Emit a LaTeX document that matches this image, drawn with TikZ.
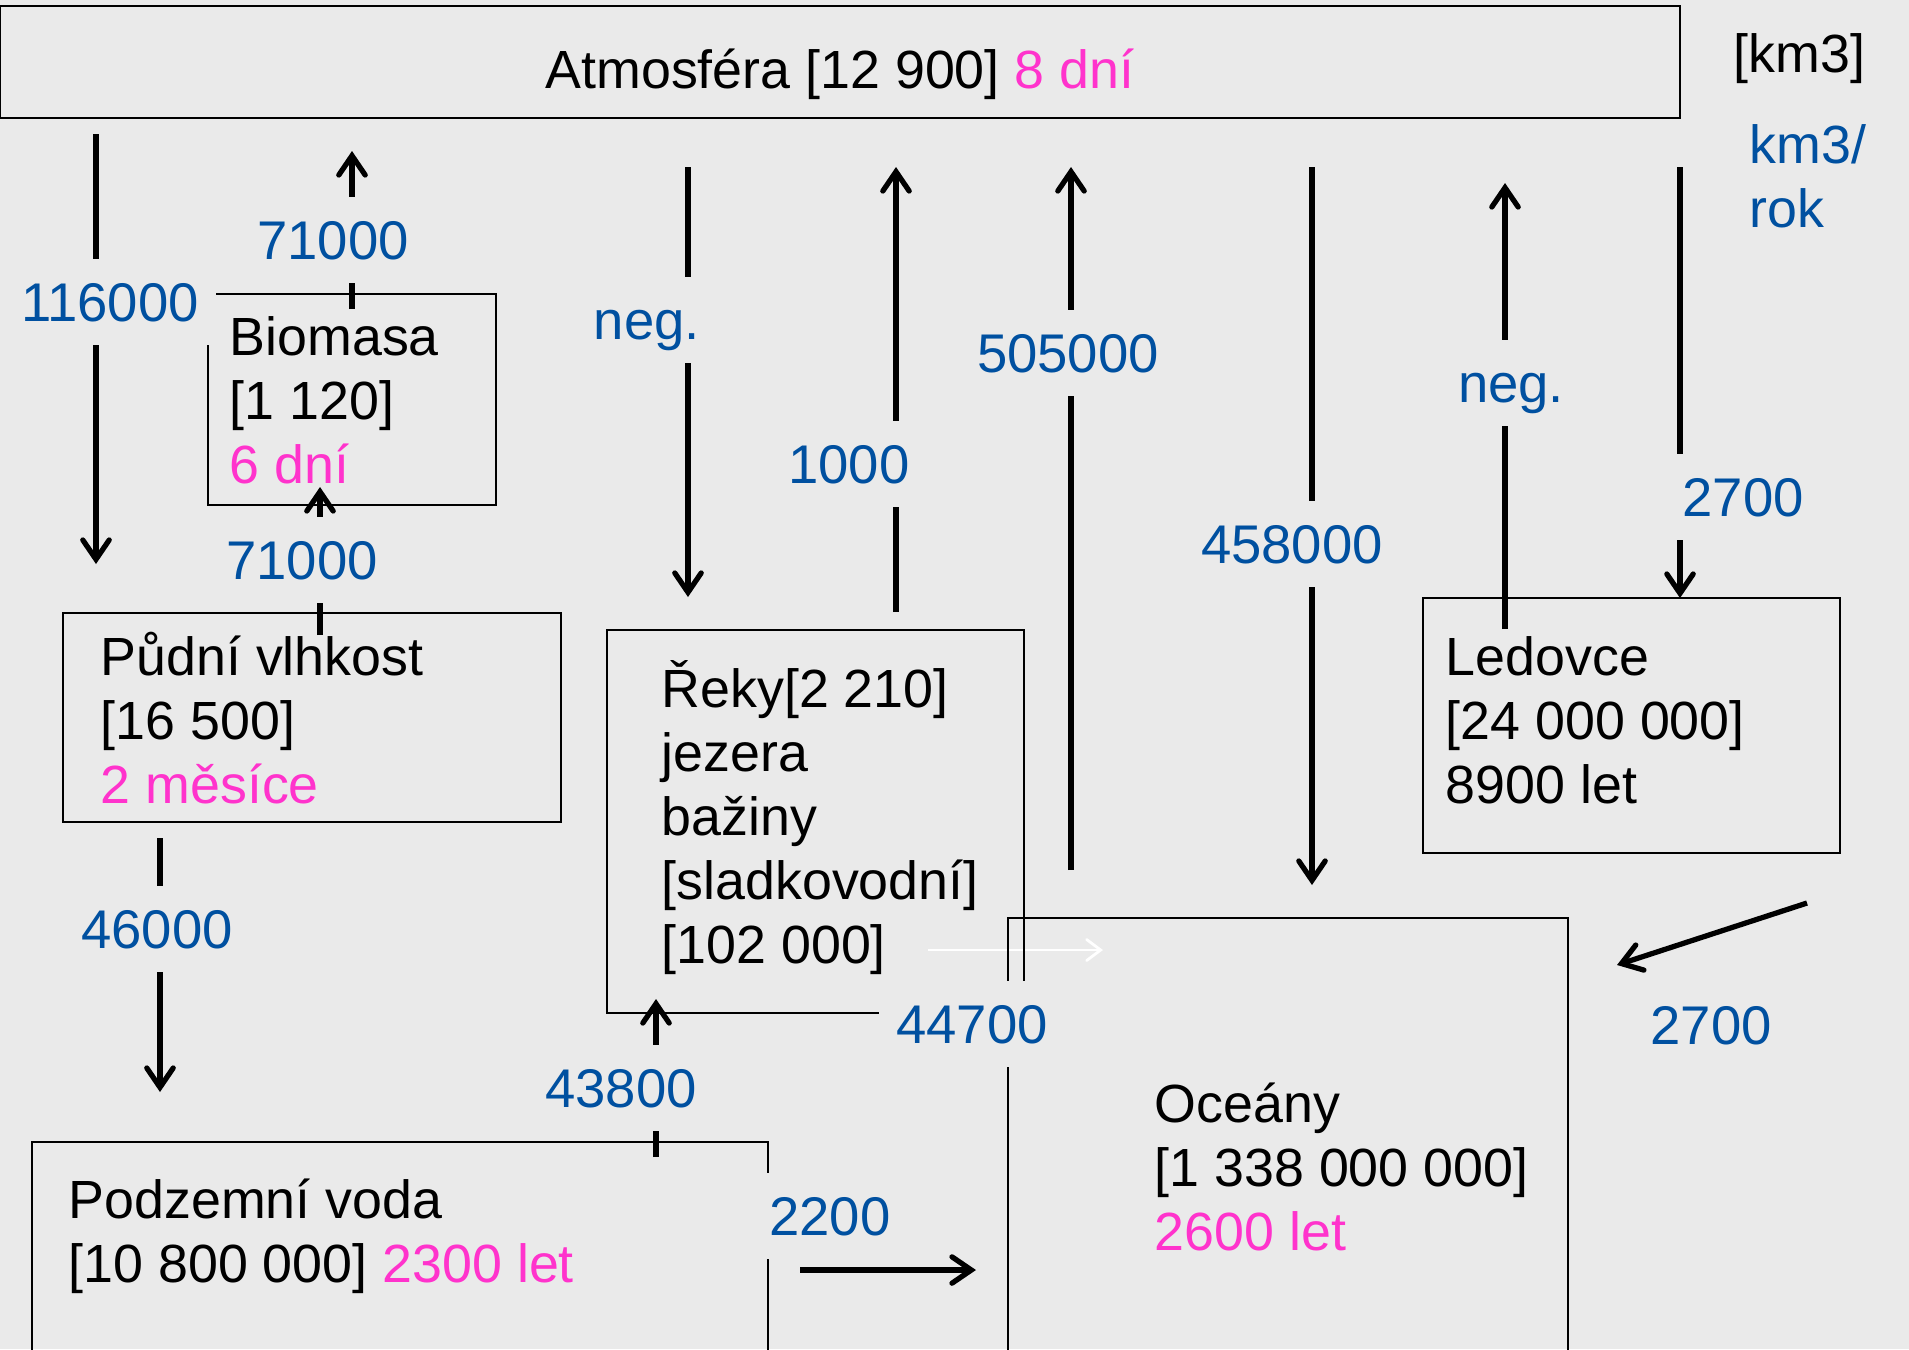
\documentclass[tikz,border=0pt]{standalone}
\usepackage{fontspec}
\setmainfont{Liberation Sans}
\usepackage{tikz}
\usetikzlibrary{arrows.meta}
\usepackage{xcolor}
\definecolor{bgc}{RGB}{234,234,234}
\definecolor{flowblue}{RGB}{0,80,160}
\definecolor{timepink}{RGB}{255,51,204}

\begin{document}
\begin{tikzpicture}[x=0.1mm, y=-0.1mm,
    font=\fontsize{15.3}{18.2}\selectfont,
    store/.style={draw=black, line width=0.6pt, inner sep=0pt},
    storetext/.style={anchor=base west, inner sep=0pt, align=left},
    flow/.style={line width=1.5pt, -{Straight Barb[length=5.5pt,width=7.5pt,line cap=round]}},
    flowlabel/.style={fill=bgc, text=flowblue, inner xsep=5pt, inner ysep=6.5pt, text height=11.2pt, text depth=0pt, font=\fontsize{15.5}{18}\selectfont},
    time/.style={text=timepink}]
    \useasboundingbox (0,0) rectangle (1909,1349);
    \fill[bgc] (0,0) rectangle (1909,1349);

    % White arrow under the boxes
    \coordinate (w1) at (928,950);
    \coordinate (w2) at (1103,950);
    \draw[white, line width=0.8pt, -{Straight Barb[length=4pt,width=6pt,line cap=round]}] (w1) -- (w2);

    % Stores
    \node[store, minimum width=168mm, minimum height=11.2mm] (atm) at (840,62) {};
    \node[store, minimum width=28.8mm, minimum height=21.1mm] (bio) at (352,399.5) {};
    \node[store, minimum width=49.8mm, minimum height=20.9mm] (soil) at (312,717.5) {};
    \node[store, minimum width=41.7mm, minimum height=38.3mm] (river) at (815.5,821.5) {};
    \node[store, minimum width=41.7mm, minimum height=25.5mm] (ice) at (1631.5,725.5) {};
    \node[store, minimum width=73.6mm, minimum height=25.8mm] (ground) at (400,1271) {};
    \node[store, minimum width=56mm, minimum height=48.2mm] (ocean) at (1288,1159) {};

    % Store texts (placed by the baseline of their last line)
    \node[anchor=base, inner sep=0pt] (atmtext) at (840,88) {Atmosféra [12 900] {\color{timepink}8 dní}};
    \node[storetext] (biotext) at (229,483) {Biomasa\\{}[1 120]\\\textcolor{timepink}{6 dní}};
    \node[storetext] (soiltext) at (100,803) {Půdní vlhkost\\{}[16 500]\\\textcolor{timepink}{2 měsíce}};
    \node[storetext] (rivertext) at (661,963) {Řeky[2 210]\\jezera\\bažiny\\{}[sladkovodní]\\{}[102 000]};
    \node[storetext] (icetext) at (1445,803) {Ledovce\\{}[24 000 000]\\8900 let};
    \node[storetext] (groundtext) at (68,1282) {Podzemní voda\\{}[10 800 000] \textcolor{timepink}{2300 let}};
    \node[storetext] (oceantext) at (1154,1250) {Oceány\\{}[1 338 000 000]\\\textcolor{timepink}{2600 let}};

    % Units
    \node[anchor=base west, inner sep=0pt] (unitstore) at (1733,72) {[km3]};
    \node[storetext, text=flowblue] (unitflow) at (1749,227) {km3/\\rok};

    % Flow ends
    \coordinate (a1s) at (96,134);   \coordinate (a1e) at (96,564);
    \coordinate (a2s) at (352,309);  \coordinate (a2e) at (352,151);
    \coordinate (a3s) at (320,635);  \coordinate (a3e) at (320,487);
    \coordinate (a4s) at (160,838);  \coordinate (a4e) at (160,1092);
    \coordinate (a5s) at (656,1157); \coordinate (a5e) at (656,999);
    \coordinate (a6s) at (688,167);  \coordinate (a6e) at (688,597);
    \coordinate (a7s) at (896,612);  \coordinate (a7e) at (896,167);
    \coordinate (a8s) at (1071,870); \coordinate (a8e) at (1071,167);
    \coordinate (a9s) at (1312,167); \coordinate (a9e) at (1312,885);
    \coordinate (a10s) at (1505,629); \coordinate (a10e) at (1505,183);
    \coordinate (a11s) at (1680,167); \coordinate (a11e) at (1680,598);
    \coordinate (a12s) at (1807,903); \coordinate (a12e) at (1617,965);
    \coordinate (a13s) at (800,1270); \coordinate (a13e) at (976,1270);

    % Flows
    \draw[flow] (a1s) -- (a1e);
    \draw[flow] (a2s) -- (a2e);
    \draw[flow] (a3s) -- (a3e);
    \draw[flow] (a4s) -- (a4e);
    \draw[flow] (a5s) -- (a5e);
    \draw[flow] (a6s) -- (a6e);
    \draw[flow] (a7s) -- (a7e);
    \draw[flow] (a8s) -- (a8e);
    \draw[flow] (a9s) -- (a9e);
    \draw[flow] (a10s) -- (a10e);
    \draw[flow] (a11s) -- (a11e);
    \draw[flow] (a12s) -- (a12e);
    \draw[flow] (a13s) -- (a13e);

    % Flow labels
    \node[flowlabel] (l1) at (110,302) {116000};
    \node[flowlabel] (l2) at (333,240) {71000};
    \node[flowlabel] (l3) at (302,560) {71000};
    \node[flowlabel] (l4) at (157,929) {46000};
    \node[flowlabel] (l5) at (621,1088) {43800};
    \node[flowlabel] (l6) at (647,320) {neg.};
    \node[flowlabel] (l7) at (849,464) {1000};
    \node[flowlabel] (l8) at (1068,353) {505000};
    \node[flowlabel] (l9) at (1292,544) {458000};
    \node[flowlabel] (l10) at (1511,383) {neg.};
    \node[flowlabel] (l11) at (1743,497) {2700};
    \node[flowlabel] (l12) at (1711,1025) {2700};
    \node[flowlabel] (l13) at (830,1216) {2200};
    \node[flowlabel] (l14) at (972,1024) {44700};
\end{tikzpicture}
\end{document}
